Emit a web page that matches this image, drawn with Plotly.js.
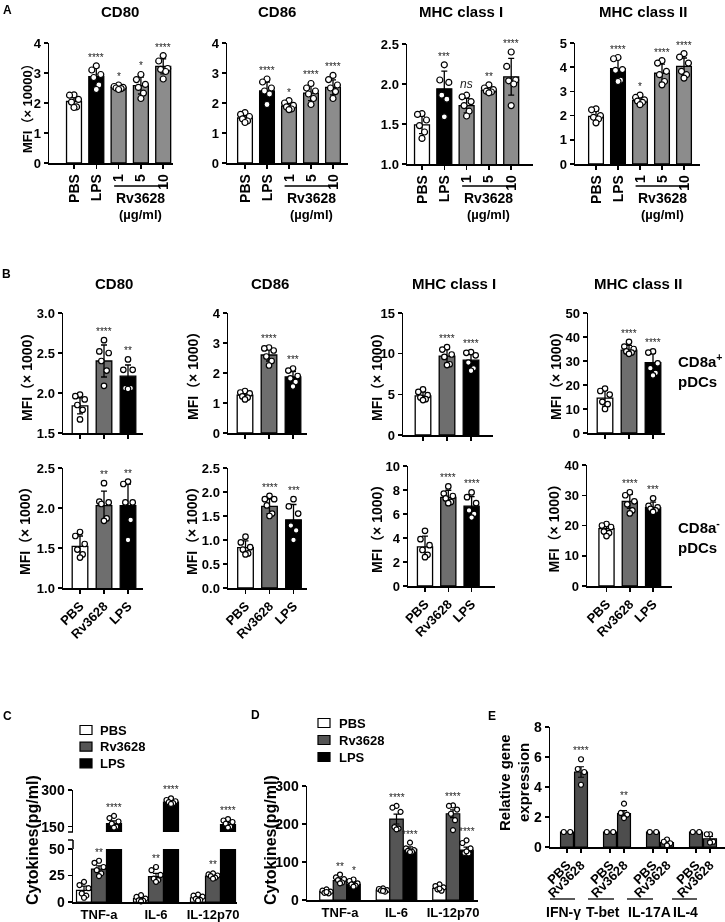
<!DOCTYPE html>
<html><head><meta charset="utf-8">
<script src="https://cdn.plot.ly/plotly-3.0.1.min.js"></script>
<style>body{margin:0;background:#fff}#chart{width:725px;height:922px;filter:grayscale(1)}</style>
</head><body><div id="chart"></div>
<script>
// ================= DATA =================
// Panel A (x 10000)
const A_cats = ['PBS','LPS','1','5','10'];
const A_colors = ['#ffffff','#000000','#8c8c8c','#8c8c8c','#8c8c8c'];
const A_CD80_mean = [2.05, 2.88, 2.52, 2.58, 3.22];
const A_CD80_err  = [0.18, 0.30, 0.07, 0.28, 0.25];
const A_CD80_pts  = [[2.27,2.26,2.12,2.03,1.87,1.85],[3.24,3.10,2.95,2.85,2.60,2.45],[2.60,2.55,2.52,2.50,2.48,2.45],[2.95,2.78,2.62,2.52,2.33,2.15],[3.58,3.40,3.15,3.12,3.05,2.80]];
const A_CD80_sig  = ['','****','*','*','****'];
const A_CD86_mean = [1.50, 2.40, 1.90, 2.33, 2.52];
const A_CD86_err  = [0.12, 0.30, 0.12, 0.25, 0.25];
const A_CD86_pts  = [[1.68,1.62,1.55,1.47,1.40,1.35],[2.80,2.70,2.50,2.40,2.30,1.95],[2.08,2.00,1.92,1.87,1.80,1.78],[2.65,2.50,2.40,2.30,2.15,1.95],[2.92,2.78,2.60,2.50,2.38,2.15]];
const A_CD86_sig  = ['','****','*','****','****'];
const A_MHCI_mean = [1.49, 1.94, 1.73, 1.92, 2.09];
const A_MHCI_err  = [0.11, 0.22, 0.09, 0.04, 0.23];
const A_MHCI_pts  = [[1.63,1.62,1.55,1.48,1.40,1.32],[2.24,2.05,2.02,1.86,1.81,1.59],[1.86,1.84,1.78,1.73,1.66,1.60],[1.99,1.95,1.93,1.91,1.90,1.89],[2.40,2.22,2.05,2.04,2.00,1.73]];
const A_MHCI_sig  = ['','***','ns','**','****'];
const A_MHCII_mean = [1.97, 3.94, 2.62, 3.75, 4.03];
const A_MHCII_err  = [0.22, 0.40, 0.15, 0.38, 0.35];
const A_MHCII_pts  = [[2.28,2.24,2.00,1.93,1.86,1.70],[4.40,4.35,3.90,3.87,3.46,3.41],[2.85,2.75,2.65,2.60,2.55,2.45],[4.27,4.17,3.83,3.69,3.41,3.27],[4.56,4.42,4.17,3.83,3.69,3.55]];
const A_MHCII_sig  = ['','****','*','****','****'];

// Panel B (x 1000)
const B_cats = ['PBS','Rv3628','LPS'];
const B_colors = ['#ffffff','#6e6e6e','#000000'];
// CD8a+ pDCs
const Bp_CD80_mean = [1.84, 2.40, 2.21];
const Bp_CD80_err  = [0.10, 0.20, 0.14];
const Bp_CD80_pts  = [[1.98,1.96,1.92,1.85,1.79,1.67],[2.66,2.52,2.50,2.40,2.28,2.09],[2.42,2.29,2.29,2.06,2.06,2.05]];
const Bp_CD80_sig  = ['','****','**'];
const Bp_CD86_mean = [1.26, 2.60, 1.87];
const Bp_CD86_err  = [0.10, 0.20, 0.18];
const Bp_CD86_pts  = [[1.40,1.35,1.32,1.22,1.18,1.12],[2.85,2.82,2.75,2.55,2.40,2.25],[2.15,2.08,1.90,1.82,1.70,1.55]];
const Bp_CD86_sig  = ['','****','***'];
const Bp_MHCI_mean = [4.8, 9.7, 9.2];
const Bp_MHCI_err  = [0.5, 0.9, 0.8];
const Bp_MHCI_pts  = [[5.6,5.3,4.9,4.6,4.4,4.3],[10.8,10.5,9.9,9.6,8.7,8.6],[10.2,10.1,9.8,8.9,8.2,7.9]];
const Bp_MHCI_sig  = ['','****','****'];
const Bp_MHCII_mean = [14.5, 34.5, 29.3];
const Bp_MHCII_err  = [3.3, 2.0, 4.0];
const Bp_MHCII_pts  = [[18.5,17.5,16,13,12,10],[38,36,35,34,33.5,33],[34,33.5,29,27,25,24]];
const Bp_MHCII_sig  = ['','****','****'];
// CD8a- pDCs
const Bn_CD80_mean = [1.52, 2.03, 2.03];
const Bn_CD80_err  = [0.13, 0.18, 0.27];
const Bn_CD80_pts  = [[1.70,1.65,1.55,1.48,1.42,1.38],[2.31,2.08,2.07,2.05,1.87,1.84],[2.33,2.30,2.07,2.07,1.85,1.60]];
const Bn_CD80_sig  = ['','**','**'];
const Bn_CD86_mean = [0.84, 1.70, 1.42];
const Bn_CD86_err  = [0.14, 0.15, 0.32];
const Bn_CD86_pts  = [[1.07,0.95,0.85,0.80,0.72,0.70],[1.92,1.85,1.85,1.72,1.55,1.50],[1.85,1.70,1.55,1.30,1.20,1.00]];
const Bn_CD86_sig  = ['','****','***'];
const Bn_MHCI_mean = [3.26, 7.38, 6.65];
const Bn_MHCI_err  = [0.9, 0.6, 0.8];
const Bn_MHCI_pts  = [[4.6,3.9,3.4,3.0,2.6,2.4],[8.3,7.7,7.5,7.3,7.0,6.9],[7.8,7.4,6.9,6.3,6.0,5.7]];
const Bn_MHCI_sig  = ['','****','****'];
const Bn_MHCII_mean = [19, 28, 25.9];
const Bn_MHCII_err  = [1.5, 2.3, 1.8];
const Bn_MHCII_pts  = [[20.5,20,19.5,18,17.5,16.5],[31,30,28,27,25,24],[29,26.5,26,25.5,25,24.5]];
const Bn_MHCII_sig  = ['','****','***'];

// Panels C / D (pg/ml)
const CD_groups = ['TNF-a','IL-6','IL-12p70'];
const CD_treat = ['PBS','Rv3628','LPS'];
const CD_colors = ['#ffffff','#555555','#000000'];
const C_PBS_mean = [11, 3.2, 4];
const C_PBS_err  = [4, 1.5, 1.5];
const C_PBS_pts  = [[19,16,13,8,6,4],[6.4,4.8,3.2,1.6,1.2,0.6],[7,6,5,3,2,1.5]];
const C_Rv_mean  = [31, 24, 24.5];
const C_Rv_err   = [3, 3, 1.2];
const C_Rv_pts   = [[38.9,37,33,30,27,24.5],[33,30,25.5,22,20.7,19],[27,26,25,24.5,23,22]];
const C_Rv_sig   = ['**','**','**'];
const C_LPS_mean = [162, 250, 158];
const C_LPS_err  = [12, 6, 8];
const C_LPS_pts  = [[194,185,171,162,150,146],[266,259,254,250,246,243],[181,175,169,162,150,146]];
const C_LPS_sig  = ['****','****','****'];

const D_PBS_mean = [22, 26, 30.6];
const D_PBS_err  = [3, 3, 4];
const D_PBS_pts  = [[28,24.5,22,19,17.5,21],[30.6,29,26,25,22,24],[41,36.7,33,28,24.5,30]];
const D_Rv_mean  = [51, 213, 227];
const D_Rv_err   = [6, 13, 10];
const D_Rv_pts   = [[67,59.5,55,52.5,46,44],[247.6,243,232,192,188,186],[249,247.6,238,227,210,184]];
const D_Rv_sig   = ['**','****','****'];
const D_LPS_mean = [41, 133, 131];
const D_LPS_err  = [6, 7, 8];
const D_LPS_pts  = [[54,50,44,41,37.6,35],[151,136,131,129.5,127,126],[157,150,136,124,122.5,128]];
const D_LPS_sig  = ['*','****','****'];

// Panel E (relative expression)
const E_genes = ['IFN-γ','T-bet','IL-17A','IL-4'];
const E_treat = ['PBS','Rv3628'];
const E_PBS_mean = [1, 1, 1, 1];
const E_PBS_err  = [0, 0, 0, 0];
const E_PBS_pts  = [[1,1],[1,1],[1,1],[1,1]];
const E_Rv_mean  = [5.0, 2.22, 0.30, 0.55];
const E_Rv_err   = [0.35, 0.20, 0.10, 0.15];
const E_Rv_pts   = [[5.85,5.2,5.0,4.15],[2.89,2.27,2.16,1.93],[0.5,0.35,0.25,0.1],[0.85,0.85,0.35,0.3]];
const E_Rv_sig   = ['****','**','',''];

// ================= DRAWING =================
const FONT = '"Liberation Sans", Arial, "Noto Sans CJK SC", sans-serif';
const W = 725, H = 922;
const fx = p => p / W;
const fy = p => 1 - p / H;
const traces = [];
const layout = {
  width: W, height: H, margin: {l:0, r:0, t:0, b:0}, showlegend: false,
  paper_bgcolor: '#fff', plot_bgcolor: 'rgba(0,0,0,0)', barmode: 'overlay',
  font: {family: FONT, color: '#000'}, annotations: [], shapes: []
};
const JIT6 = [0, -0.3, 0.3, -0.17, 0.17, 0];
let nAx = 0;

function makeAxes(xpx, ypx, c0, sp, yrange, yopt, xopt) {
  nAx++;
  const s = nAx === 1 ? '' : String(nAx);
  const xa = 'x' + s, ya = 'y' + s;
  const base = {showline: true, linecolor: '#000', linewidth: 1.5, ticks: 'outside', ticklen: 4,
    tickwidth: 1.5, tickcolor: '#000', showgrid: false, zeroline: false, fixedrange: true,
    tickfont: {family: FONT, size: 13, weight: 700, color: '#000'}};
  layout['xaxis' + s] = Object.assign({}, base, {domain: [fx(xpx[0]), fx(xpx[1])],
    range: [(xpx[0] - c0) / sp, (xpx[1] - c0) / sp], anchor: ya}, xopt || {});
  layout['yaxis' + s] = Object.assign({}, base, {domain: [fy(ypx[1]), fy(ypx[0])],
    range: yrange, anchor: xa}, yopt || {});
  return {x: xa, y: ya};
}

function addPts(ax, xs, ys, size) {
  traces.push({type: 'scatter', mode: 'markers', x: xs, y: ys, xaxis: ax.x, yaxis: ax.y,
    marker: {size: size, color: '#fff', line: {color: '#000', width: 1.2}}, cliponaxis: false, hoverinfo: 'skip'});
}
function addStar(ax, x, y, t, size) {
  if (!t) return;
  const ns = t === 'ns';
  layout.annotations.push({xref: ax.x, yref: ax.y, x: x, y: y, text: ns ? '<i>ns</i>' : t,
    showarrow: false, xanchor: 'center', yanchor: 'bottom', yshift: ns ? 2 : 1,
    font: {family: FONT, size: ns ? 12 : size, color: '#222'}});
}
function simpleBars(ax, mean, err, pts, colors, width, msize, sig, ssize) {
  const xs = mean.map((_, i) => i);
  traces.push({type: 'bar', x: xs, y: mean, width: width, xaxis: ax.x, yaxis: ax.y,
    marker: {color: colors, line: {color: '#000', width: 1.3}},
    error_y: {type: 'data', array: err, visible: true, color: '#000', thickness: 1.3, width: 3}, hoverinfo: 'skip'});
  const px = [], py = [];
  pts.forEach((arr, i) => arr.forEach((v, j) => { px.push(i + JIT6[j % 6] * width); py.push(v); }));
  addPts(ax, px, py, msize);
  sig.forEach((t, i) => addStar(ax, i, Math.max(mean[i] + err[i], ...pts[i]), t, ssize));
}
function groupSeries(ax, k, n, step, width, color, mean, err, pts, sig, jit, msize, ssize, ptMax) {
  const off = (k - (n - 1) / 2) * step;
  const xs = mean.map((_, g) => g + off);
  traces.push({type: 'bar', x: xs, y: mean, width: width, xaxis: ax.x, yaxis: ax.y,
    marker: {color: color, line: {color: '#000', width: 1.2}},
    error_y: {type: 'data', array: err, visible: true, color: '#000', thickness: 1.2, width: 3}, hoverinfo: 'skip'});
  const px = [], py = [];
  pts.forEach((arr, g) => arr.forEach((v, j) => {
    if (ptMax !== undefined && v > ptMax) return;
    px.push(g + off + jit[j % jit.length] * width); py.push(v);
  }));
  addPts(ax, px, py, msize);
  if (sig) sig.forEach((t, g) => addStar(ax, g + off, Math.max(mean[g] + err[g], ...pts[g]), t, ssize));
}
function label(xpx, ypx, text, size, opts) {
  layout.annotations.push(Object.assign({xref: 'paper', yref: 'paper', x: fx(xpx), y: fy(ypx), text: text,
    showarrow: false, xanchor: 'center', yanchor: 'middle',
    font: {family: FONT, size: size, weight: 700, color: '#000'}}, opts || {}));
}
function ytitle(xpx, ypx, text, size) { label(xpx, ypx, text, size, {textangle: -90}); }
function pline(x0, y0, x1, y1, w) {
  layout.shapes.push({type: 'line', xref: 'paper', yref: 'paper', x0: fx(x0), x1: fx(x1), y0: fy(y0), y1: fy(y1), line: {color: '#000', width: w || 1.5}});
}

// ---------- Panel A ----------
const Axopt = {tickvals: [0,1,2,3,4], ticktext: A_cats, tickangle: -90, tickfont: {family: FONT, size: 14, weight: 700, color: '#000'}};
const A_specs = [
  {xpx: [49,173], ypx: [43,163], c0: 74, sp: 22.3, yr: [0,4], y: {dtick: 1}, m: A_CD80_mean, e: A_CD80_err, p: A_CD80_pts, s: A_CD80_sig, t: 'CD80', tx: 120},
  {xpx: [227,348], ypx: [43,163], c0: 245, sp: 22, yr: [0,4], y: {dtick: 1}, m: A_CD86_mean, e: A_CD86_err, p: A_CD86_pts, s: A_CD86_sig, t: 'CD86', tx: 277},
  {xpx: [407,533], ypx: [44,164], c0: 422, sp: 22.3, yr: [1,2.5], y: {dtick: 0.5, tickformat: '.1f'}, m: A_MHCI_mean, e: A_MHCI_err, p: A_MHCI_pts, s: A_MHCI_sig, t: 'MHC class I', tx: 461},
  {xpx: [575,700], ypx: [43,164], c0: 596, sp: 22, yr: [0,5], y: {dtick: 1}, m: A_MHCII_mean, e: A_MHCII_err, p: A_MHCII_pts, s: A_MHCII_sig, t: 'MHC class II', tx: 643}
];
A_specs.forEach(sp => {
  const ax = makeAxes(sp.xpx, sp.ypx, sp.c0, sp.sp, sp.yr, sp.y, Axopt);
  simpleBars(ax, sp.m, sp.e, sp.p, A_colors, 0.67, 6, sp.s, 10);
  label(sp.tx, 12, sp.t, 15);
  layout.shapes.push({type: 'line', xref: ax.x, yref: 'paper', x0: 1.8, x1: 4.2, y0: fy(186), y1: fy(186), line: {color: '#000', width: 1.3}});
  layout.annotations.push({xref: ax.x, yref: 'paper', x: 3, y: fy(198), text: 'Rv3628', showarrow: false, xanchor: 'center', yanchor: 'middle', font: {family: FONT, size: 14, weight: 700, color: '#000'}});
  layout.annotations.push({xref: ax.x, yref: 'paper', x: 3, y: fy(215), text: '(µg/ml)', showarrow: false, xanchor: 'center', yanchor: 'middle', font: {family: FONT, size: 13, weight: 700, color: '#000'}});
});
ytitle(28, 105, 'MFI（× 10000）', 13);
label(8, 10, 'A', 12);

// ---------- Panel B ----------
const Btop = {tickvals: [0,1,2], showticklabels: false};
const Bbot = {tickvals: [0,1,2], ticktext: B_cats, tickangle: -45};
const B_specs = [
  {xpx: [63,143], ypx: [313,433], c0: 80, sp: 24, yr: [1.5,3.0], y: {dtick: 0.5, tickformat: '.1f'}, m: Bp_CD80_mean, e: Bp_CD80_err, p: Bp_CD80_pts, s: Bp_CD80_sig, xo: Btop, yt: 27},
  {xpx: [228,307], ypx: [313,433], c0: 245, sp: 24, yr: [0,4], y: {dtick: 1}, m: Bp_CD86_mean, e: Bp_CD86_err, p: Bp_CD86_pts, s: Bp_CD86_sig, xo: Btop, yt: 193},
  {xpx: [403,493], ypx: [313,435], c0: 423, sp: 24, yr: [0,15], y: {dtick: 5}, m: Bp_MHCI_mean, e: Bp_MHCI_err, p: Bp_MHCI_pts, s: Bp_MHCI_sig, xo: Btop, yt: 377},
  {xpx: [588,665], ypx: [313,433], c0: 605, sp: 24, yr: [0,50], y: {dtick: 10}, m: Bp_MHCII_mean, e: Bp_MHCII_err, p: Bp_MHCII_pts, s: Bp_MHCII_sig, xo: Btop, yt: 556},
  {xpx: [63,143], ypx: [468,588], c0: 80, sp: 24, yr: [1.0,2.5], y: {dtick: 0.5, tickformat: '.1f'}, m: Bn_CD80_mean, e: Bn_CD80_err, p: Bn_CD80_pts, s: Bn_CD80_sig, xo: Bbot, yt: 25},
  {xpx: [228,307], ypx: [468,588], c0: 245.5, sp: 24, yr: [0,2.5], y: {dtick: 0.5, tickformat: '.1f'}, m: Bn_CD86_mean, e: Bn_CD86_err, p: Bn_CD86_pts, s: Bn_CD86_sig, xo: Bbot, yt: 192},
  {xpx: [408,495], ypx: [466,586], c0: 425, sp: 23.3, yr: [0,10], y: {dtick: 2}, m: Bn_MHCI_mean, e: Bn_MHCI_err, p: Bn_MHCI_pts, s: Bn_MHCI_sig, xo: Bbot, yt: 377},
  {xpx: [587,672], ypx: [465,586], c0: 606.5, sp: 23.3, yr: [0,40], y: {dtick: 10}, m: Bn_MHCII_mean, e: Bn_MHCII_err, p: Bn_MHCII_pts, s: Bn_MHCII_sig, xo: Bbot, yt: 553}
];
B_specs.forEach(sp => {
  const ax = makeAxes(sp.xpx, sp.ypx, sp.c0, sp.sp, sp.yr, sp.y, sp.xo);
  simpleBars(ax, sp.m, sp.e, sp.p, B_colors, 0.65, 5.5, sp.s, 10);
  ytitle(sp.yt, (sp.ypx[0] + sp.ypx[1]) / 2, 'MFI（× 1000）', 14);
});
label(114, 283, 'CD80', 15); label(270, 283, 'CD86', 15);
label(454, 283, 'MHC class I', 15); label(638, 283, 'MHC class II', 15);
label(676, 371, 'CD8a<sup>+</sup><br>pDCs', 15, {xanchor: 'left', align: 'left'});
label(676, 536, 'CD8a<sup>-</sup><br>pDCs', 15, {xanchor: 'left', align: 'left'});
label(6, 274, 'B', 12);

// ---------- Panel C (broken axis) ----------
const Cx = {tickvals: [0,1,2], ticktext: CD_groups, ticks: '', tickfont: {family: FONT, size: 13, weight: 700, color: '#000'}};
const CaxL = makeAxes([73,237], [849,902], 99, 57, [0,50], {tickvals: [0,25,50], tickfont: {family: FONT, size: 14, weight: 700, color: '#000'}}, Cx);
const CaxU = makeAxes([73,237], [790,832], 99, 57, [128,300], {tickvals: [150,300], tickfont: {family: FONT, size: 14, weight: 700, color: '#000'}}, {showline: false, ticks: '', showticklabels: false});
const JITC = [0, -0.3, 0.3, -0.15, 0.15, 0];
groupSeries(CaxL, 0, 3, 0.263, 0.263, CD_colors[0], C_PBS_mean, C_PBS_err, C_PBS_pts, null, JITC, 5, 10, 50);
groupSeries(CaxL, 1, 3, 0.263, 0.263, CD_colors[1], C_Rv_mean, C_Rv_err, C_Rv_pts, C_Rv_sig, JITC, 5, 10, 50);
groupSeries(CaxL, 2, 3, 0.263, 0.263, CD_colors[2], C_LPS_mean, C_LPS_err, C_LPS_pts, null, JITC, 5, 10, 50);
groupSeries(CaxU, 2, 3, 0.263, 0.263, CD_colors[2], C_LPS_mean, C_LPS_err, C_LPS_pts, C_LPS_sig, JITC, 5, 10);
// axis break marks
pline(68, 832, 73, 832); pline(68, 840, 73, 840); pline(73, 840, 73, 849);
ytitle(32, 840, 'Cytokines(pg/ml)', 16);
label(8, 716, 'C', 12);
CD_treat.forEach((t, k) => {
  const y = 730 + k * 16.7;
  layout.shapes.push({type: 'rect', xref: 'paper', yref: 'paper', x0: fx(80), x1: fx(92), y0: fy(y + 4.5), y1: fy(y - 4.5), fillcolor: CD_colors[k], line: {color: '#000', width: 1.2}});
  label(98, y, t, 13, {xanchor: 'left'});
});

// ---------- Panel D ----------
const Dax = makeAxes([307,478], [786,900], 340, 56.5, [0,300], {dtick: 100, tickfont: {family: FONT, size: 14, weight: 700, color: '#000'}}, Cx);
groupSeries(Dax, 0, 3, 0.239, 0.239, CD_colors[0], D_PBS_mean, D_PBS_err, D_PBS_pts, null, JITC, 5, 10);
groupSeries(Dax, 1, 3, 0.239, 0.239, CD_colors[1], D_Rv_mean, D_Rv_err, D_Rv_pts, D_Rv_sig, JITC, 5, 10);
groupSeries(Dax, 2, 3, 0.239, 0.239, CD_colors[2], D_LPS_mean, D_LPS_err, D_LPS_pts, D_LPS_sig, JITC, 5, 10);
ytitle(270, 840, 'Cytokines(pg/ml)', 16);
label(255, 715, 'D', 12);
CD_treat.forEach((t, k) => {
  const y = 723 + k * 17;
  layout.shapes.push({type: 'rect', xref: 'paper', yref: 'paper', x0: fx(318), x1: fx(330), y0: fy(y + 4.5), y1: fy(y - 4.5), fillcolor: CD_colors[k], line: {color: '#000', width: 1.2}});
  label(337, y, t, 13, {xanchor: 'left'});
});

// ---------- Panel E ----------
const Etv = [], Ett = [];
E_genes.forEach((g, i) => { Etv.push(i - 0.163, i + 0.163); Ett.push(E_treat[0], E_treat[1]); });
const Eax = makeAxes([550,725], [727,847], 574, 43, [0,8], {dtick: 2, tickfont: {family: FONT, size: 14, weight: 700, color: '#000'}},
  {tickvals: Etv, ticktext: Ett, tickangle: -45, tickfont: {family: FONT, size: 13, weight: 700, color: '#000'}});
groupSeries(Eax, 0, 2, 0.326, 0.30, '#4d4d4d', E_PBS_mean, E_PBS_err, E_PBS_pts, null, [-0.25, 0.25], 5, 10);
groupSeries(Eax, 1, 2, 0.326, 0.30, '#4d4d4d', E_Rv_mean, E_Rv_err, E_Rv_pts, E_Rv_sig, [0, -0.25, 0.25, 0], 5, 10);
const E_linePx = [[550,575],[588,614],[627,653],[672,697]];
const E_labPx = [563, 603, 649, 685];
E_genes.forEach((g, i) => {
  pline(E_linePx[i][0], 899, E_linePx[i][1], 899, 1.3);
  label(E_labPx[i], 912, g, 14);
});
ytitle(504, 783, 'Relative gene', 15);
ytitle(523, 783, 'expression', 15);
label(492, 716, 'E', 12);

Plotly.newPlot('chart', traces, layout, {staticPlot: true, displayModeBar: false});
</script>
</body></html>
